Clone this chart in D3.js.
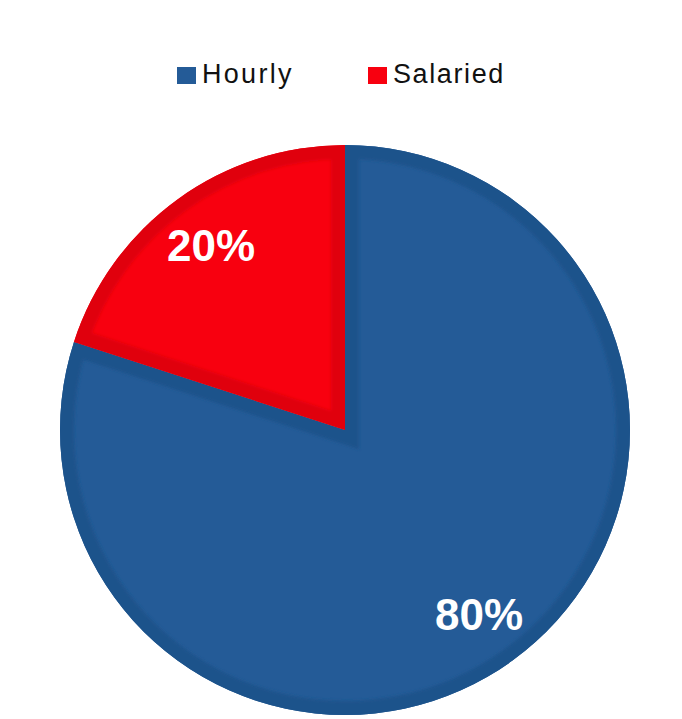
<!DOCTYPE html>
<html>
<head>
<meta charset="utf-8">
<script src="https://cdn.jsdelivr.net/npm/d3@7"></script>
<style>
  html, body { margin: 0; padding: 0; background: #ffffff; }
  svg { display: block; }
</style>
</head>
<body>
<svg id="chart" width="682" height="719"></svg>
<script>
// ---- data ----
const categories = ["Hourly", "Salaried"];
const values = [80, 20];
const labels = ["80%", "20%"];
const colors = ["#245b97", "#f8000f"];
const edgeColors = ["#1f528b", "#e0000e"];

// ---- layout ----
const W = 682, H = 719;
const cx = 345, cy = 430, R = 285;
const svg = d3.select("#chart");

const pie = d3.pie().sort(null).value(d => d.value).startAngle(0).endAngle(2 * Math.PI);
const data = categories.map((c, i) => ({ name: c, value: values[i], label: labels[i], i }));
const arcs = pie(data);
const arc = d3.arc().innerRadius(0).outerRadius(R);
const labelArc = d3.arc().innerRadius(R * 0.8).outerRadius(R * 0.8);

const defs = svg.append("defs");
const blur = defs.append("filter").attr("id", "soft")
  .attr("x", "-10%").attr("y", "-10%").attr("width", "120%").attr("height", "120%");
blur.append("feGaussianBlur").attr("stdDeviation", 1.8);

const g = svg.append("g").attr("transform", `translate(${cx},${cy})`);

arcs.forEach((a, k) => {
  defs.append("clipPath").attr("id", "clip" + k)
    .append("path").attr("d", arc(a));
});

// slice fills
g.selectAll("path.slice").data(arcs).enter().append("path")
  .attr("class", "slice")
  .attr("d", arc)
  .attr("fill", d => colors[d.data.i]);

// darker inner rim (soft inset edge)
const rims = g.selectAll("g.rim").data(arcs).enter().append("g")
  .attr("class", "rim")
  .attr("clip-path", (d, k) => `url(#clip${k})`);
rims.append("path")
  .attr("d", arc)
  .attr("fill", "none")
  .attr("stroke", d => edgeColors[d.data.i])
  .attr("stroke-width", 28)
  .attr("stroke-linejoin", "miter")
  .attr("filter", "url(#soft)");

// labels
g.selectAll("text.lbl").data(arcs).enter().append("text")
  .attr("class", "lbl")
  .attr("transform", d => {
    const [x, y] = labelArc.centroid(d);
    return `translate(${x},${y})`;
  })
  .attr("text-anchor", "middle")
  .attr("dy", "0.36em")
  .attr("fill", "#ffffff")
  .attr("font-family", "Liberation Sans, Arial, sans-serif")
  .attr("font-weight", "bold")
  .attr("font-size", 44)
  .text(d => d.data.label);

// legend
const legendX = [177, 368];
const legend = svg.append("g");
const items = legend.selectAll("g").data(data).enter().append("g")
  .attr("transform", (d, i) => `translate(${legendX[i]},0)`);
items.append("rect")
  .attr("x", 0).attr("y", 67)
  .attr("width", 19).attr("height", 17)
  .attr("fill", d => colors[d.i]);
items.append("text")
  .attr("x", 25).attr("y", 83)
  .attr("font-family", "Liberation Sans, Arial, sans-serif")
  .attr("font-size", 27)
  .attr("letter-spacing", d => d.i === 0 ? 2.3 : 1.6)
  .attr("fill", "#111111")
  .text(d => d.name);
</script>
</body>
</html>
